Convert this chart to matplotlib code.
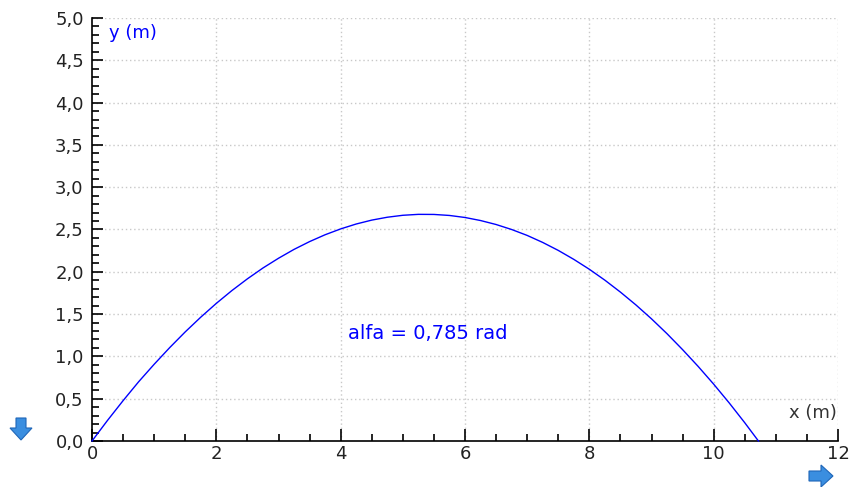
import matplotlib
matplotlib.use("Agg")
import matplotlib.pyplot as plt
from matplotlib.ticker import MultipleLocator, FuncFormatter
from matplotlib.patches import FancyArrow

# Trajectory of the projectile: horizontal distance and height, metres
x_m = [0, 0.25, 0.5, 0.75, 1, 1.25, 1.5, 1.75, 2, 2.25, 2.5, 2.75, 3, 3.25,
       3.5, 3.75, 4, 4.25, 4.5, 4.75, 5, 5.25, 5.5, 5.75, 6, 6.25, 6.5, 6.75,
       7, 7.25, 7.5, 7.75, 8, 8.25, 8.5, 8.75, 9, 9.25, 9.5, 9.75, 10, 10.25,
       10.5, 10.72]
y_m = [0, 0.244, 0.477, 0.70, 0.907, 1.104, 1.29, 1.464, 1.627, 1.778, 1.917,
       2.045, 2.16, 2.265, 2.357, 2.438, 2.507, 2.565, 2.611, 2.645, 2.668,
       2.679, 2.678, 2.666, 2.642, 2.606, 2.559, 2.50, 2.43, 2.347, 2.253,
       2.147, 2.03, 1.901, 1.76, 1.608, 1.444, 1.268, 1.08, 0.882, 0.672,
       0.45, 0.216, 0.0]
angle_label = "alfa = 0,785 rad"
x_label = "x (m)"
y_label = "y (m)"

W, H = 849, 487
fig = plt.figure(figsize=(W / 100, H / 100), dpi=100)
fig.patch.set_facecolor("white")

# axes box in pixels: left 92, right 838, top 18, bottom 441
ax = fig.add_axes([92 / W, 1 - 441 / H, (838 - 92) / W, (441 - 18) / H])
ax.set_xlim(0, 12)
ax.set_ylim(0, 5)

ax.plot(x_m, y_m, color="#0000ff", lw=1.0, clip_on=False, zorder=3)

for s in ("top", "right"):
    ax.spines[s].set_visible(False)
for s in ("left", "bottom"):
    ax.spines[s].set_color("black")
    ax.spines[s].set_linewidth(1.2)

ax.xaxis.set_major_locator(MultipleLocator(2))
ax.xaxis.set_minor_locator(MultipleLocator(0.5))
ax.yaxis.set_major_locator(MultipleLocator(0.5))
ax.yaxis.set_minor_locator(MultipleLocator(0.1))

ax.tick_params(axis="x", which="major", direction="in", length=9, width=1.2,
               labelsize=13, pad=3, colors="black", labelcolor="#222222")
ax.tick_params(axis="x", which="minor", direction="in", length=5, width=1.2)
ax.tick_params(axis="y", which="major", direction="in", length=8, width=1.2,
               labelsize=13, pad=6, labelcolor="#222222")
ax.tick_params(axis="y", which="minor", direction="in", length=5, width=1.2)

ax.xaxis.set_major_formatter(FuncFormatter(lambda v, p: f"{v:.0f}"))
ax.yaxis.set_major_formatter(FuncFormatter(lambda v, p: f"{v:.1f}".replace(".", ",")))

# dotted grid
for yv in [0.5 * i for i in range(1, 11)]:
    ax.axhline(yv, color="#c8c8c8", lw=1.0, ls=(0, (1, 2)), zorder=1)
for xv in range(2, 13, 2):
    ax.axvline(xv, color="#c8c8c8", lw=1.0, ls=(0, (1, 2)), zorder=1)

ax.text(0.28, 4.82, y_label, color="#0000ff", fontsize=13, ha="left", va="center")
ax.text(11.98, 0.33, x_label, color="#333333", fontsize=13, ha="right", va="center")
ax.text(5.4, 1.27, angle_label, color="#0000ff", fontsize=14, ha="center", va="center")

# navigation arrows
arrow_kw = dict(color="#3a8ee0", ec="#1f66b8", lw=0.8, length_includes_head=True)
fig.patches.append(FancyArrow(21 / W, 1 - 418 / H, 0, -22 / H, width=10 / W,
                              head_width=22 / W, head_length=12 / H,
                              transform=fig.transFigure, figure=fig, **arrow_kw))
fig.patches.append(FancyArrow(809 / W, 1 - 476 / H, 24 / W, 0, width=10 / H,
                              head_width=22 / H, head_length=12 / W,
                              transform=fig.transFigure, figure=fig, **arrow_kw))

fig.savefig("out.png", dpi=100, facecolor="white")
